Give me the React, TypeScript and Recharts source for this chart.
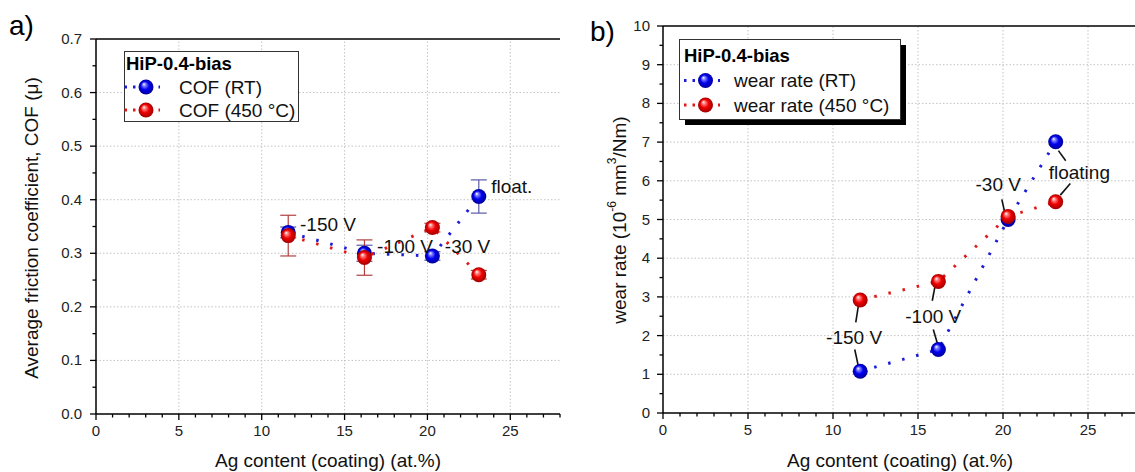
import React from "react";
import {ErrorBar, Label, ReferenceDot, ReferenceLine, Scatter, ScatterChart, XAxis, YAxis} from "recharts";

const FONT = "Arial, 'Liberation Sans', Helvetica, sans-serif";
const BLUE = "#1c1cd8";
const RED = "#e01818";

// data
const agContent = [11.6, 16.2, 20.3, 23.1];
const cofRT = [0.339, 0.300, 0.295, 0.406];
const cofRTErr = [0.010, 0.015, 0.008, 0.031];
const cof450 = [0.333, 0.292, 0.348, 0.260];
const cof450Err = [0.038, 0.033, 0.008, 0.008];
const wearRT = [1.08, 1.64, 5.00, 7.01];
const wear450 = [2.92, 3.40, 5.08, 5.46];

const xTicks = [0, 1, 2, 3, 4, 5, 6, 7, 8, 9, 10, 11, 12, 13, 14, 15, 16, 17, 18, 19, 20, 21, 22, 23, 24, 25, 26, 27, 28];
const xGrid = [5, 10, 15, 20, 25];
const cofTicks = [0, 0.05, 0.1, 0.15, 0.2, 0.25, 0.3, 0.35, 0.4, 0.45, 0.5, 0.55, 0.6, 0.65, 0.7];
const cofGrid = [0.1, 0.2, 0.3, 0.4, 0.5, 0.6];
const wearTicks = [0, 0.5, 1, 1.5, 2, 2.5, 3, 3.5, 4, 4.5, 5, 5.5, 6, 6.5, 7, 7.5, 8, 8.5, 9, 9.5, 10];
const wearGrid = [1, 2, 3, 4, 5, 6, 7, 8, 9];

const cofRTData = agContent.map((x, i) => ({x, y: cofRT[i], err: cofRTErr[i]}));
const cof450Data = agContent.map((x, i) => ({x, y: cof450[i], err: cof450Err[i]}));
const wearRTData = agContent.map((x, i) => ({x, y: wearRT[i]}));
const wear450Data = agContent.map((x, i) => ({x, y: wear450[i]}));

const dotted = (stroke: string) => ({stroke, strokeWidth: 3, strokeDasharray: "2.5 12"});

const Ball = (id: string) => (p: any) => <circle cx={p.cx} cy={p.cy} r={7.5} fill={`url(#${id})`}/>;

const Gradients = ({suffix}: { suffix: string }) => (
  <defs>
    <radialGradient id={`blue${suffix}`} cx="50%" cy="50%" r="50%" fx="35%" fy="30%">
      <stop offset="0%" stopColor="#ffffff"/>
      <stop offset="22%" stopColor="#7f7fff"/>
      <stop offset="55%" stopColor="#0000f0"/>
      <stop offset="100%" stopColor="#00009a"/>
    </radialGradient>
    <radialGradient id={`red${suffix}`} cx="50%" cy="50%" r="50%" fx="35%" fy="30%">
      <stop offset="0%" stopColor="#ffffff"/>
      <stop offset="22%" stopColor="#ff8080"/>
      <stop offset="55%" stopColor="#f00000"/>
      <stop offset="100%" stopColor="#a00000"/>
    </radialGradient>
  </defs>
);

const XTick = (p: any) => {
  const v = p.payload.value;
  const major = v % 5 === 0;
  return (
    <g>
      <line x1={p.x} x2={p.x} y1={p.y} y2={p.y + (major ? 6 : 3.5)} stroke="#000" strokeWidth={1.3}/>
      {major && (
        <text x={p.x} y={p.y + 22} textAnchor="middle" fontSize={15} fill="#222" fontFamily={FONT}>{v}</text>
      )}
    </g>
  );
};

const makeYTick = (step: number, digits: number, gap: number) => (p: any) => {
  const v = p.payload.value;
  const major = Math.abs(v / step - Math.round(v / step)) < 1e-6;
  return (
    <g>
      <line x1={p.x - (major ? 6 : 3.5)} x2={p.x} y1={p.y} y2={p.y} stroke="#000" strokeWidth={1.3}/>
      {major && (
        <text x={p.x - gap} y={p.y + 5} textAnchor="end" fontSize={15} fill="#222" fontFamily={FONT}>
          {v.toFixed(digits)}
        </text>
      )}
    </g>
  );
};

const gridLine = {stroke: "#c4c4c4", strokeDasharray: "1.5 2", strokeWidth: 1};
const axisLine = {stroke: "#000", strokeWidth: 1.5};
const annot = {fontSize: 19, fill: "#111", fontFamily: FONT};

const cofNotes = [
  {x: 14.0, y: 0.355, t: "-150 V"},
  {x: 18.65, y: 0.314, t: "-100 V"},
  {x: 22.42, y: 0.314, t: "-30 V"},
  {x: 25.09, y: 0.425, t: "float."},
];

const wearNotes = [
  {x: 11.24, y: 1.95, t: "-150 V"},
  {x: 15.9, y: 2.51, t: "-100 V"},
  {x: 19.72, y: 5.91, t: "-30 V"},
  {x: 24.49, y: 6.21, t: "floating"},
];

const wearLeaders = [
  [{x: 11.34, y: 2.34}, {x: 11.49, y: 2.77}],
  [{x: 11.28, y: 1.64}, {x: 11.49, y: 1.21}],
  [{x: 15.84, y: 2.9}, {x: 15.99, y: 3.25}],
  [{x: 15.9, y: 2.16}, {x: 16.16, y: 1.77}],
  [{x: 19.93, y: 5.52}, {x: 20.12, y: 5.15}],
  [{x: 23.69, y: 6.52}, {x: 23.26, y: 6.78}],
  [{x: 23.96, y: 5.93}, {x: 23.37, y: 5.63}],
];

const CofChart = () => (
  <ScatterChart width={565} height={472} margin={{top: 39, right: 5, bottom: 0, left: 0}}>
    <Gradients suffix="A"/>
    {xGrid.map((v) => <ReferenceLine key={`gx${v}`} x={v} {...gridLine}/>)}
    {cofGrid.map((v) => <ReferenceLine key={`gy${v}`} y={v} {...gridLine}/>)}
    <ReferenceLine y={0.7} stroke="#000" strokeWidth={1.5}/>
    <XAxis type="number" dataKey="x" domain={[0, 28]} ticks={xTicks} interval={0} height={58}
           tickSize={0} tickMargin={0} tickLine={false} axisLine={axisLine} tick={XTick}>
      <Label content={() => (
        <text x={328} y={467} textAnchor="middle" fontSize={19} fill="#111" fontFamily={FONT}>
          Ag content (coating) (at.%)
        </text>
      )}/>
    </XAxis>
    <YAxis type="number" dataKey="y" domain={[0, 0.7]} ticks={cofTicks} interval={0} width={96}
           tickSize={0} tickMargin={0} tickLine={false} axisLine={axisLine} tick={makeYTick(0.1, 1, 14)}>
      <Label content={() => (
        <text transform="translate(31, 228) rotate(-90)" textAnchor="middle" dominantBaseline="central"
              fontSize={19} fill="#111" fontFamily={FONT}>
          Average friction coefficient, COF (μ)
        </text>
      )}/>
    </YAxis>
    <Scatter data={cofRTData} isAnimationActive={false} shape={Ball("blueA")} line={dotted(BLUE)} lineType="joint">
      <ErrorBar dataKey="err" direction="y" width={8} stroke="#5a5aa8" strokeWidth={1.2} isAnimationActive={false}/>
    </Scatter>
    <Scatter data={cof450Data} isAnimationActive={false} shape={Ball("redA")} line={dotted(RED)} lineType="joint">
      <ErrorBar dataKey="err" direction="y" width={8} stroke="#b04040" strokeWidth={1.2} isAnimationActive={false}/>
    </Scatter>
    {cofNotes.map((n) => (
      <ReferenceDot key={n.t} x={n.x} y={n.y} r={0} fill="none" stroke="none"
                    label={{value: n.t, position: "center", ...annot}}/>
    ))}
  </ScatterChart>
);

const WearChart = () => (
  <ScatterChart width={570} height={472} margin={{top: 26, right: 1, bottom: 0, left: 0}}>
    <Gradients suffix="B"/>
    {xGrid.map((v) => <ReferenceLine key={`gx${v}`} x={v} {...gridLine}/>)}
    {wearGrid.map((v) => <ReferenceLine key={`gy${v}`} y={v} {...gridLine}/>)}
    <ReferenceLine y={10} stroke="#000" strokeWidth={1.5}/>
    <XAxis type="number" dataKey="x" domain={[0, 28]} ticks={xTicks} interval={0} height={59}
           tickSize={0} tickMargin={0} tickLine={false} axisLine={axisLine} tick={XTick}>
      <Label content={() => (
        <text x={330} y={467} textAnchor="middle" fontSize={19} fill="#111" fontFamily={FONT}>
          Ag content (coating) (at.%)
        </text>
      )}/>
    </XAxis>
    <YAxis type="number" dataKey="y" domain={[0, 10]} ticks={wearTicks} interval={0} width={93}
           tickSize={0} tickMargin={0} tickLine={false} axisLine={axisLine} tick={makeYTick(1, 0, 13)}>
      <Label content={() => (
        <text transform="translate(49, 220) rotate(-90)" textAnchor="middle" dominantBaseline="central"
              fontSize={19} fill="#111" fontFamily={FONT}>
          wear rate (10<tspan dy={-7} fontSize={12}>-6</tspan><tspan dy={7}> mm</tspan>
          <tspan dy={-7} fontSize={12}>3</tspan><tspan dy={7}>/Nm)</tspan>
        </text>
      )}/>
    </YAxis>
    <Scatter data={wearRTData} isAnimationActive={false} shape={Ball("blueB")} line={dotted(BLUE)} lineType="joint"/>
    <Scatter data={wear450Data} isAnimationActive={false} shape={Ball("redB")} line={dotted(RED)} lineType="joint"/>
    {wearLeaders.map((s, i) => (
      <ReferenceLine key={`ld${i}`} segment={s} stroke="#111" strokeWidth={1.6}/>
    ))}
    {wearNotes.map((n) => (
      <ReferenceDot key={n.t} x={n.x} y={n.y} r={0} fill="none" stroke="none"
                    label={{value: n.t, position: "center", ...annot}}/>
    ))}
  </ScatterChart>
);

const LegendEntry = ({x0, x1, mx, tx, y, color, grad, text}: any) => (
  <g>
    <line x1={x0} x2={x1} y1={y} y2={y} stroke={color} strokeWidth={3} strokeDasharray="2.5 6"/>
    <circle cx={mx} cy={y} r={7.5} fill={`url(#${grad})`}/>
    <text x={tx} y={y + 6.5} fontSize={19} fill="#111" fontFamily={FONT}>{text}</text>
  </g>
);

const Overlay = () => (
  <svg width={1135} height={472} style={{position: "absolute", left: 0, top: 0, pointerEvents: "none"}}>
    <Gradients suffix="L"/>
    <text x={9} y={35} fontSize={28} fill="#000" fontFamily={FONT}>a)</text>
    <text x={590} y={41} fontSize={28} fill="#000" fontFamily={FONT}>b)</text>

    <rect x={124.5} y={51.5} width={174} height={70} fill="#fff" stroke="#333" strokeWidth={1}/>
    <text x={126} y={69.5} fontSize={18.5} fontWeight="bold" fill="#000" fontFamily={FONT}>HiP-0.4-bias</text>
    <LegendEntry x0={124.5} x1={160} mx={146} tx={179} y={87} color={BLUE} grad="blueL" text="COF (RT)"/>
    <LegendEntry x0={124.5} x1={160} mx={146} tx={179} y={110} color={RED} grad="redL" text="COF (450 °C)"/>

    <rect x={685} y={45} width={221} height={80} fill="#000"/>
    <rect x={679.5} y={39.5} width={221} height={80} fill="#fff" stroke="#333" strokeWidth={1}/>
    <text x={684} y={61.5} fontSize={18.5} fontWeight="bold" fill="#000" fontFamily={FONT}>HiP-0.4-bias</text>
    <LegendEntry x0={684} x1={720} mx={705.5} tx={734} y={80.5} color={BLUE} grad="blueL" text="wear rate (RT)"/>
    <LegendEntry x0={684} x1={720} mx={705.5} tx={734} y={105} color={RED} grad="redL" text="wear rate (450 °C)"/>
  </svg>
);

export default function App() {
  return (
    <div style={{position: "fixed", left: 0, top: 0, width: 1135, height: 472, overflow: "hidden", background: "#fff"}}>
      <div style={{position: "absolute", left: 0, top: 0}}>
        <CofChart/>
      </div>
      <div style={{position: "absolute", left: 570, top: 0}}>
        <WearChart/>
      </div>
      <Overlay/>
    </div>
  );
}
